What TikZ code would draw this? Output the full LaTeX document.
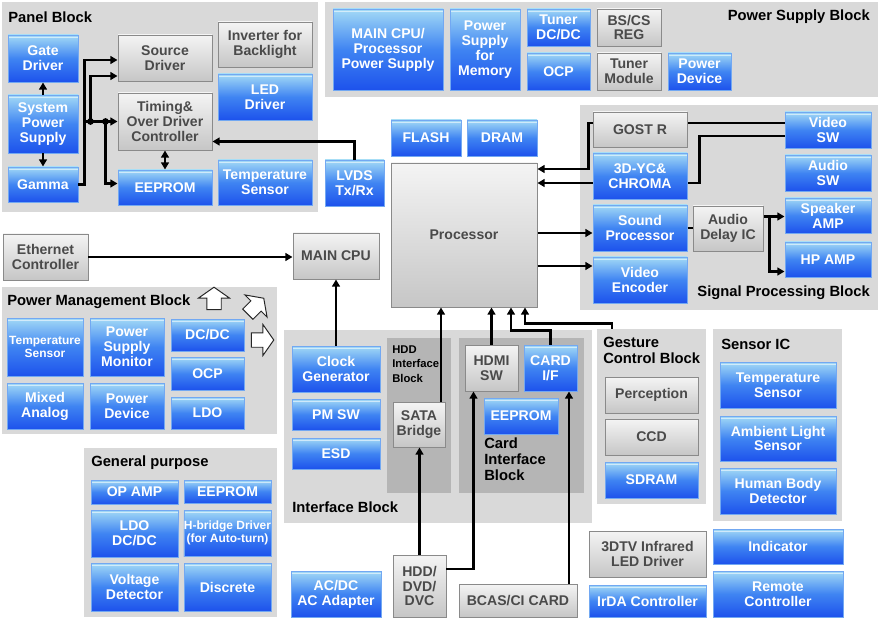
\documentclass[tikz,border=0pt]{standalone}
\usepackage{fontspec}
\setmainfont{Liberation Sans}
\usepackage{tikz}
\usetikzlibrary{arrows.meta,positioning,calc,shapes.arrows}
\definecolor{bluetop}{HTML}{A3DAF6}
\definecolor{bluemid}{HTML}{3F84F2}
\definecolor{bluebot}{HTML}{1D52EC}
\definecolor{blueedge}{HTML}{72A8F2}
\definecolor{graytop}{HTML}{F4F4F4}
\definecolor{graybot}{HTML}{C6C6C6}
\definecolor{grayedge}{HTML}{8A8A8A}
\definecolor{graytext}{HTML}{4A4A4A}
\definecolor{blockgray}{HTML}{D9D9D9}
\definecolor{subgray}{HTML}{B5B5B5}

\tikzset{
  % a box given by its left/top/right/bottom edges, in pixels
  boxat/.style args={#1/#2/#3/#4}{at={({(#1+#3)/2},{(#2+#4)/2})},
    minimum width={(#3-#1)*0.025cm},minimum height={(#4-#2)*0.025cm}},
  box/.style={draw,line width=0.7pt,inner sep=0pt,align=center},
  bluebox/.style={box,draw=blueedge,top color=bluetop,bottom color=bluebot,
    middle color=bluemid,text=white,
    path picture={\draw[white,opacity=0.55,line width=0.8pt]
      ([yshift=-1.6pt]path picture bounding box.north west) --
      ([yshift=-1.6pt]path picture bounding box.north east);}},
  graybox/.style={box,draw=grayedge,top color=graytop,bottom color=graybot,
    text=graytext},
  blockbg/.style={fill=blockgray,inner sep=0pt},
  subblock/.style={fill=subgray,inner sep=0pt},
  blocktitle/.style={inner sep=0pt,align=left,
    font=\bfseries\fontsize{10.5}{11.2}\selectfont},
  smalltext/.style={font=\bfseries\fontsize{8.5}{9.8}\selectfont},
  conn/.style={line width=1.5pt,-{Triangle[length=5pt,width=5.5pt]}},
  dconn/.style={line width=1.5pt,{Triangle[length=5pt,width=5.5pt]}-{Triangle[length=5pt,width=5.5pt]}},
  plain/.style={line width=1.5pt},
  hollowarrow/.style={single arrow,draw=black!85,fill=white,line width=0.7pt,
    inner xsep=0pt,inner ysep=4.8pt,minimum height=16pt,
    single arrow head extend=6pt,single arrow tip angle=110},
}

\begin{document}
\begin{tikzpicture}[x=0.025cm,y=-0.025cm,font=\bfseries\fontsize{10}{10.6}\selectfont]
\fill[white] (0,0) rectangle (880,629);
\useasboundingbox (0,0) rectangle (880,629);

% Panel block
\node[blockbg,boxat=2/2/318/212] (panelblk) {};
\node[blocktitle,anchor=west] (paneltitle) at (8,17) {Panel Block};
\node[bluebox,boxat=8/35/78/82] (gatedrv) {Gate\\Driver};
\node[bluebox,boxat=8/95/78/153] (syspwr) {System\\Power\\Supply};
\node[bluebox,boxat=8/167/78/202] (gamma) {Gamma};
\node[graybox,boxat=118/35/212/81] (srcdrv) {Source\\Driver};
\node[graybox,boxat=118/93/212/150] (timing) {Timing\&\\Over Driver\\Controller};
\node[bluebox,boxat=118/170/212/205] (paneleeprom) {EEPROM};
\node[graybox,boxat=218/22/312/67] (inverter) {Inverter for\\Backlight};
\node[bluebox,boxat=218/74/312/120] (leddrv) {LED\\Driver};
\node[bluebox,boxat=218/160/312/205] (paneltemp) {Temperature\\Sensor};
\node[bluebox,boxat=325/160/384/206] (lvds) {LVDS\\Tx/Rx};

% Power supply block
\node[blockbg,boxat=325/2/878/97] (psblk) {};
\node[blocktitle,anchor=east] (pstitle) at (870,17) {Power Supply Block};
\node[bluebox,boxat=333/9/443/90] (cpupwr) {MAIN CPU/\\Processor\\Power Supply};
\node[bluebox,boxat=450/9/520/90] (mempwr) {Power\\Supply\\for\\Memory};
\node[bluebox,boxat=527/9/590/46] (tunerdc) {Tuner\\DC/DC};
\node[bluebox,boxat=527/53/590/90] (psocp) {OCP};
\node[graybox,boxat=597/9/661/46] (bscs) {BS/CS\\REG};
\node[graybox,boxat=597/53/661/90] (tunermod) {Tuner\\Module};
\node[bluebox,boxat=668/53/731/90] (pwrdev) {Power\\Device};

% Processor with its memories
\node[bluebox,boxat=391/120/461/156] (flash) {FLASH};
\node[bluebox,boxat=467/120/537/156] (dram) {DRAM};
\node[graybox,boxat=391/163/537/307] (proc) {Processor};

% Signal processing block
\node[blockbg,boxat=580/105/878/310] (sigblk) {};
\node[blocktitle,anchor=east] (sigtitle) at (870,293) {Signal Processing Block};
\node[graybox,boxat=593/112/687/147] (gost) {GOST R};
\node[bluebox,boxat=593/153/687/199] (ycchroma) {3D-YC\&\\CHROMA};
\node[bluebox,boxat=593/205/687/251] (soundproc) {Sound\\Processor};
\node[bluebox,boxat=593/257/687/303] (videnc) {Video\\Encoder};
\node[graybox,boxat=693/206/763/251] (audiodelay) {Audio\\Delay IC};
\node[bluebox,boxat=785/112/871/148] (videosw) {Video\\SW};
\node[bluebox,boxat=785/155/871/191] (audiosw) {Audio\\SW};
\node[bluebox,boxat=785/198/871/233] (spkamp) {Speaker\\AMP};
\node[bluebox,boxat=785/242/871/277] (hpamp) {HP AMP};

\node[graybox,boxat=3/234/88/280] (ether) {Ethernet\\Controller};
\node[graybox,boxat=293/233/379/279] (maincpu) {MAIN CPU};

% Power management block
\node[blockbg,boxat=2/287/277/434] (pmblk) {};
\node[blocktitle,anchor=west] (pmtitle) at (7,302) {Power Management Block};
\node[bluebox,smalltext,boxat=7/318/83/376] (pmtemp) {Temperature\\Sensor};
\node[bluebox,boxat=90/318/164/376] (pmmon) {Power\\Supply\\Monitor};
\node[bluebox,boxat=171/319/244/351] (pmdcdc) {DC/DC};
\node[bluebox,boxat=171/357/244/390] (pmocp) {OCP};
\node[bluebox,boxat=171/397/244/429] (pmldo) {LDO};
\node[bluebox,boxat=7/383/83/429] (mixed) {Mixed\\Analog};
\node[bluebox,boxat=90/383/164/429] (pmdev) {Power\\Device};
\node[hollowarrow,rotate=90] (pmup) at (214,301) {};
\node[hollowarrow,rotate=45] (pmdiag) at (254,308) {};
\node[hollowarrow] (pmright) at (260,340) {};

% Interface block
\node[blockbg,boxat=284/330/592/523] (ifblk) {};
\node[blocktitle,anchor=west] (iftitle) at (292,507) {Interface Block};
\node[bluebox,boxat=292/346/380/392] (clockgen) {Clock\\Generator};
\node[bluebox,boxat=292/399/380/430] (pmsw) {PM SW};
\node[bluebox,boxat=292/438/380/469] (esd) {ESD};
\node[subblock,boxat=387/338/451/493] (hddblk) {};
\node[anchor=north west,align=left,inner sep=0pt,
  font=\bfseries\fontsize{8}{10.6}\selectfont] (hddtitle) at (392,345)
  {HDD\\Interface\\Block};
\node[graybox,boxat=393/402/445/447] (sata) {SATA\\Bridge};
\node[subblock,boxat=459/338/584/493] (cardblk) {};
\node[graybox,boxat=465/345/518/391] (hdmisw) {HDMI\\SW};
\node[bluebox,boxat=524/345/577/391] (cardif) {CARD\\I/F};
\node[bluebox,boxat=484/398/558/434] (cardeeprom) {EEPROM};
\node[blocktitle,anchor=north west] (cardtitle) at (484,438)
  {Card\\Interface\\Block};

% Gesture control and sensors
\node[blockbg,boxat=597/329/706/504] (gestblk) {};
\node[blocktitle,anchor=north west] (gesttitle) at (603,337)
  {Gesture\\Control Block};
\node[graybox,boxat=605/377/698/413] (perception) {Perception};
\node[graybox,boxat=605/419/698/455] (ccd) {CCD};
\node[bluebox,boxat=605/462/698/498] (sdram) {SDRAM};
\node[blockbg,boxat=713/329/842/521] (sensblk) {};
\node[blocktitle,anchor=west] (senstitle) at (721,344) {Sensor IC};
\node[bluebox,boxat=720/362/836/408] (senstemp) {Temperature\\Sensor};
\node[bluebox,boxat=720/416/836/461] (ambient) {Ambient Light\\Sensor};
\node[bluebox,boxat=720/468/836/514] (humanbody) {Human Body\\Detector};

\node[graybox,boxat=589/531/706/577] (irled) {3DTV Infrared\\LED Driver};
\node[bluebox,boxat=589/585/706/617] (irda) {IrDA Controller};
\node[bluebox,boxat=713/529/843/564] (indicator) {Indicator};
\node[bluebox,boxat=713/571/843/617] (remote) {Remote\\Controller};

% General purpose
\node[blockbg,boxat=84/448/277/617] (gpblk) {};
\node[blocktitle,anchor=west] (gptitle) at (91,463) {General purpose};
\node[bluebox,boxat=91/480/178/504] (opamp) {OP AMP};
\node[bluebox,boxat=184/480/271/503] (gpeeprom) {EEPROM};
\node[bluebox,boxat=91/510/178/557] (ldodc) {LDO\\DC/DC};
\node[bluebox,smalltext,boxat=184/510/271/556] (hbridge) {H-bridge Driver\\(for Auto-turn)};
\node[bluebox,boxat=91/563/178/611] (voltdet) {Voltage\\Detector};
\node[bluebox,boxat=184/563/271/611] (discrete) {Discrete};

\node[bluebox,boxat=291/571/381/617] (acdc) {AC/DC\\AC Adapter};
\node[graybox,boxat=393/555/446/617] (hdd) {HDD/\\DVD/\\DVC};
\node[graybox,boxat=459/584/577/617] (bcas) {BCAS/CI CARD};

% Panel wiring
\draw[conn] (syspwr.north) -- (gatedrv.south);
\draw[conn] (syspwr.south) -- (gamma.north);
\coordinate (busA) at ($(gamma.east)+(6,0)$);
\draw[conn] (gamma.east) -- (busA) |- ($(srcdrv.west)+(0,2)$);
\draw[conn] (busA |- timing.west) -- (timing.west);
\coordinate (dotA) at ($(busA |- timing.west)+(6,0)$);
\coordinate (dotB) at ($(busA |- timing.west)+(21,0)$);
\draw[conn] (dotA) |- ($(srcdrv.west)+(0,18)$);
\draw[conn] (dotB) |- ($(paneleeprom.west)+(0,-4)$);
\fill (dotA) circle (2.4pt);
\fill (dotB) circle (2.4pt);
\draw[dconn] (timing.south) -- (paneleeprom.north);
\draw[conn] (lvds.north) |- ($(timing.east)+(0,20)$);

% Signal wiring
\coordinate (vswA) at ($(videosw.west)+(0,-7)$);
\coordinate (vswB) at ($(videosw.west)+(0,6)$);
\coordinate (ycA) at ($(ycchroma.west)+(0,-7)$);
\coordinate (ycB) at ($(ycchroma.west)+(0,7)$);
\draw[plain] (vswA) -- (vswA -| gost.east);
\draw[conn] (vswA -| gost.west) -- ++(-4,0) |- (ycA -| proc.east);
\draw[plain] (vswB) -- ++(-85,0) |- ($(ycchroma.east)+(0,7)$);
\draw[conn] (ycB) -- (ycB -| proc.east);
\coordinate (sndin) at ($(soundproc.west)+(0,5)$);
\coordinate (vencin) at ($(videnc.west)+(0,-14)$);
\draw[conn] (sndin -| proc.east) -- (sndin);
\draw[conn] (vencin -| proc.east) -- (vencin);
\draw[plain] (soundproc.east) -- (soundproc.east -| audiodelay.west);
\coordinate (adout) at ($(audiodelay.east)+(0,-12)$);
\draw[conn] (adout) -- (adout -| spkamp.west);
\draw[conn] ($(adout)+(6,0)$) |- ($(hpamp.west)+(0,12)$);

% CPU and processor inputs
\draw[conn] (ether.east) -- (ether.east -| maincpu.west);
\draw[conn] (clockgen.north) -- (clockgen.north |- maincpu.south);
\coordinate (sataout) at ($(sata.north)+(22,0)$);
\draw[conn] (sataout) -- (sataout |- proc.south);
\draw[conn] (hdmisw.north) -- (hdmisw.north |- proc.south);
\draw[conn] (cardif.north) |- ($(proc.south)+(47,23)$) -- ($(proc.south)+(47,0)$);
\draw[conn] ($(gestblk.north west)+(15,0)$) |- ($(proc.south)+(61,16)$)
  -- ($(proc.south)+(61,0)$);

% Media inputs
\draw[conn] (hdd.north) -- (hdd.north |- sata.south);
\draw[conn] ($(hdd.east)+(0,-17)$) -| ($(hdmisw.south)+(-18,0)$);
\coordinate (bcasout) at ($(bcas.north)+(51,0)$);
\draw[conn] (bcasout) -- (bcasout |- cardif.south);
\end{tikzpicture}
\end{document}
